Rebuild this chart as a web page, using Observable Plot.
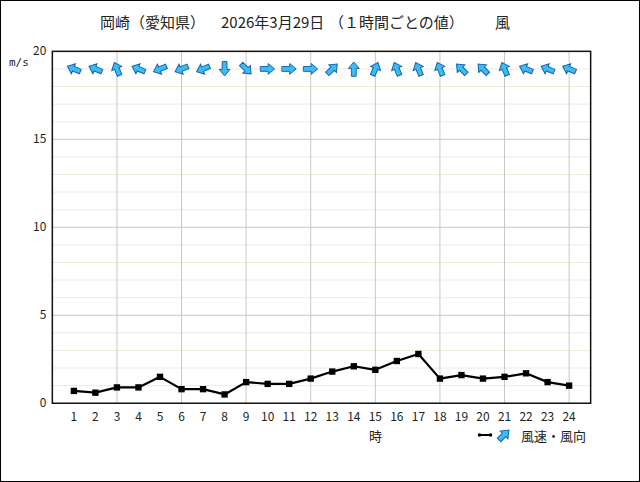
<!DOCTYPE html>
<html><head><meta charset="utf-8">
<script src="https://cdn.jsdelivr.net/npm/d3@7"></script>
<script src="https://cdn.jsdelivr.net/npm/@observablehq/plot@0.6"></script>
<style>
body{margin:0;background:#fff;}
#wrap{position:relative;width:640px;height:482px;box-sizing:border-box;border:1px solid #000;overflow:hidden;font-family:"Noto Sans CJK JP",sans-serif;}
#wrap svg.plot{position:absolute;left:-1px;top:-1px;}
.lbl{position:absolute;white-space:pre;color:#222;line-height:1;}
.t{top:13px;font-size:15px;}
</style></head><body>
<div id="wrap">
  <div class="lbl t" style="left:99px;">岡崎（愛知県）</div>
  <div class="lbl t" style="left:220px;">2026年3月29日</div>
  <div class="lbl t" style="left:328px;">（１時間ごとの値）</div>
  <div class="lbl t" style="left:494px;">風</div>
  <div class="lbl" style="left:8px;top:56px;font-size:11px;font-family:'DejaVu Sans Mono',monospace;">m/s</div>
  <div class="lbl" style="left:368px;top:428px;font-size:13px;">時</div>
  <div class="lbl" style="left:520px;top:428px;font-size:13px;">風速・風向</div>
  <svg style="position:absolute;left:476px;top:426px" width="40" height="18">
    <line x1="2" y1="8" x2="14" y2="8" stroke="#000" stroke-width="2"/>
    <circle cx="2.5" cy="8" r="1.8" fill="#000"/><circle cx="13.5" cy="8" r="1.8" fill="#000"/>
    <g transform="translate(27,8) rotate(45) translate(0,7)">
      <path d="M-2.5,0L-2.5,-7L-5.5,-7L0,-14L5.5,-7L2.5,-7L2.5,0Z" fill="#3cbcf0" stroke="#1565b0" stroke-width="1"/>
    </g>
  </svg>
</div>
<script>
const hours = [1,2,3,4,5,6,7,8,9,10,11,12,13,14,15,16,17,18,19,20,21,22,23,24];
const speeds = [0.7,0.6,0.9,0.9,1.5,0.8,0.8,0.5,1.2,1.1,1.1,1.4,1.8,2.1,1.9,2.4,2.8,1.4,1.6,1.4,1.5,1.7,1.2,1.0];
// wind-from direction (16 points)
const dirs = ["東南東","東南東","南南東","東南東","東北東","東北東","東北東","北","北西","西","西","西","南西","南","南南西","南南東","南南東","南南東","南東","南東","南南東","東南東","東南東","東南東"];
const dirNames = ["北","北北東","北東","東北東","東","東南東","南東","南南東","南","南南西","南西","西南西","西","西北西","北西","北北西"];
const yTicks = [0,5,10,15,20];
const arrowLevel = 19;

const data = hours.map((h,i)=>({hour:h, speed:speeds[i], dir:dirs[i],
  toward:(dirNames.indexOf(dirs[i])*22.5+180)%360}));

const minorY = d3.range(1,20).filter(v=>v%5!==0);
const majorY = [5,10,15];
const vX = d3.range(3,25,3);

const blockArrow = {
  draw(context, l, r) {
    const w=2.4, h=5.4, hl=6.5;
    context.moveTo(-w,0);
    context.lineTo(-w,-(l-hl));
    context.lineTo(-h,-(l-hl));
    context.lineTo(0,-l);
    context.lineTo(h,-(l-hl));
    context.lineTo(w,-(l-hl));
    context.lineTo(w,0);
    context.closePath();
  }
};

function arrows(shape){
  return Plot.vector(data,{x:"hour",y:()=>arrowLevel,rotate:"toward",length:14,anchor:"middle",
    shape, fill:"#3cbcf0", stroke:"#1565b0", strokeWidth:1, strokeLinejoin:"miter"});
}

function build(useCustom){
  return Plot.plot({
    width:640, height:482,
    marginLeft:51, marginRight:49, marginTop:50, marginBottom:79,
    style:{fontFamily:"'Noto Sans CJK JP',sans-serif", fontSize:"12px", color:"#222", background:"transparent"},
    x:{domain:[0,25], ticks:hours, tickSize:0, tickPadding:9, tickFormat:d=>String(d), label:null},
    y:{domain:[0,20], ticks:yTicks, tickSize:0, tickPadding:6, label:null},
    marks:[
      Plot.ruleY(minorY,{stroke:"#efeadb", strokeWidth:1}),
      Plot.ruleY(majorY,{stroke:"#c8c8c8", strokeWidth:1}),
      Plot.ruleX(vX,{stroke:"#c8c8c8", strokeWidth:1}),
      Plot.frame({stroke:"#111", strokeWidth:1.5}),
      Plot.line(data,{x:"hour",y:"speed",stroke:"#000",strokeWidth:2.2}),
      Plot.dot(data,{x:"hour",y:"speed",symbol:"square",r:3.6,fill:"#000",stroke:"none"}),
      useCustom ? arrows(blockArrow) : Plot.text(data,{x:"hour",y:()=>arrowLevel,text:()=>"➡",rotate:d=>d.toward-90,fill:"#3cbcf0",stroke:"#1565b0",strokeWidth:0.6,fontSize:16})
    ]
  });
}
let chart;
try { chart = build(true); } catch(e) { chart = build(false); }
document.getElementById("wrap").appendChild(chart);
</script>
</body></html>
